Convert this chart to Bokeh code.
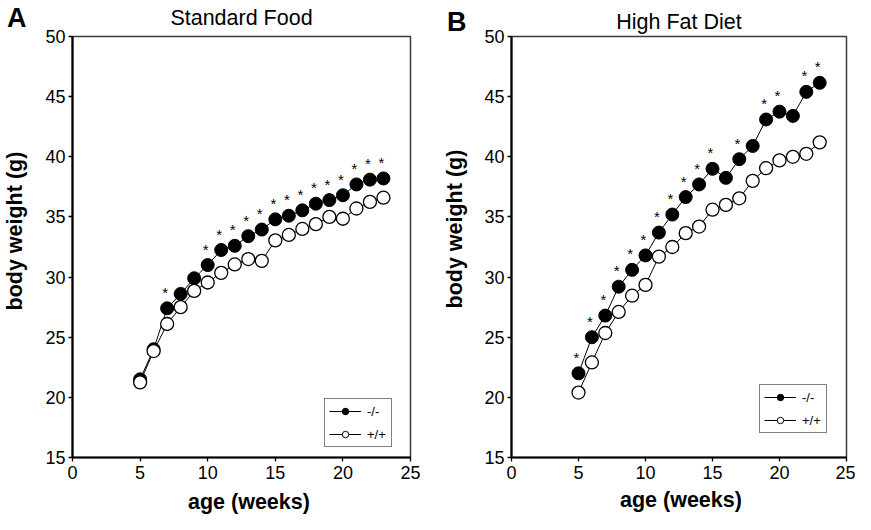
from bokeh.plotting import figure
from bokeh.models import Legend, LegendItem, FixedTicker, Range1d, Title
from bokeh.layouts import row
from bokeh.embed import file_html
from bokeh.resources import INLINE
from bokeh.core.properties import value

# ---------------- data ----------------
weeks = [5, 6, 7, 8, 9, 10, 11, 12, 13, 14, 15, 16, 17, 18, 19, 20, 21, 22, 23]

sf_ko = [21.5, 24.0, 27.4, 28.6, 29.9, 31.0, 32.25, 32.6, 33.4, 33.95, 34.8, 35.1, 35.55,
         36.1, 36.4, 36.8, 37.7, 38.1, 38.2]
sf_wt = [21.25, 23.85, 26.1, 27.5, 28.85, 29.55, 30.35, 31.05, 31.5, 31.35, 33.05, 33.5,
         34.0, 34.4, 35.0, 34.85, 35.7, 36.25, 36.6]
sf_sig = [7, 10, 11, 12, 13, 14, 15, 16, 17, 18, 19, 20, 21, 22, 23]

hf_ko = [22.0, 25.0, 26.8, 29.2, 30.6, 31.8, 33.7, 35.2, 36.65, 37.7, 39.0, 38.25, 39.8,
         40.9, 43.1, 43.75, 43.4, 45.4, 46.15]
hf_wt = [20.4, 22.9, 25.35, 27.1, 28.45, 29.35, 31.7, 32.5, 33.65, 34.2, 35.6, 36.0, 36.55,
         38.0, 39.05, 39.7, 40.0, 40.25, 41.2]
hf_sig = [5, 6, 7, 8, 9, 10, 11, 12, 13, 14, 15, 17, 19, 20, 22, 23]

x_ticks = [0, 5, 10, 15, 20, 25]
y_ticks = [15, 20, 25, 30, 35, 40, 45, 50]
titles = ["Standard Food", "High Fat Diet"]
letters = ["A", "B"]
legend_labels = ["-/-", "+/+"]
x_label = "age (weeks)"
y_label = "body weight (g)"

FONT = "Liberation Sans"
NAN = float("nan")


def make_panel(ko, wt, sig, title, letter, g):
    W, H, bl, br, bt, bb = g["size"]
    p = figure(width=W, height=H, x_range=Range1d(0, 25), y_range=Range1d(15, 50),
               output_backend="svg", toolbar_location=None, title=None,
               min_border_left=bl, min_border_right=br,
               min_border_top=bt, min_border_bottom=bb)
    p.grid.visible = False
    p.background_fill_color = "white"
    p.border_fill_color = "white"
    p.outline_line_color = "#3a3a3a"
    p.outline_line_width = 1.5

    p.xaxis.ticker = FixedTicker(ticks=x_ticks, minor_ticks=[])
    p.yaxis.ticker = FixedTicker(ticks=y_ticks, minor_ticks=[])
    for ax in (p.xaxis[0], p.yaxis[0]):
        ax.axis_line_color = "black"
        ax.axis_line_width = 2.2
        ax.major_tick_line_color = "black"
        ax.major_tick_line_width = 1.3
        ax.major_tick_in = 0
        ax.major_tick_out = 4
        ax.minor_tick_line_color = None
        ax.major_label_text_font = FONT
        ax.major_label_text_font_size = "18px"
        ax.major_label_text_color = "black"
    p.xaxis.major_label_standoff = 4
    p.yaxis.major_label_standoff = 3

    # series
    lk = p.line(weeks, ko, line_color="black", line_width=1)
    p.scatter(weeks, ko, size=13, fill_color="black", line_color="black", line_width=1)
    lw = p.line(weeks, wt, line_color="black", line_width=1)
    p.scatter(weeks, wt, size=13, fill_color="white", line_color="black", line_width=1.3)

    # significance stars
    lookup = dict(zip(weeks, ko))
    sy = [lookup[w] for w in sig]
    p.text(x=sig, y=sy, text=["*"] * len(sig), text_font=value(FONT),
           text_font_size="15px", text_align="center", text_baseline="middle",
           x_offset=-2, y_offset=-16, text_color="black")

    # legend with small markers (marker renderers hold no visible point)
    dk = p.scatter(x=[NAN], y=[NAN], size=7, fill_color="black", line_color="black")
    dw = p.scatter(x=[NAN], y=[NAN], size=7, fill_color="white", line_color="black",
                   line_width=1)
    legend = Legend(items=[LegendItem(label=legend_labels[0], renderers=[lk, dk]),
                           LegendItem(label=legend_labels[1], renderers=[lw, dw])],
                    location=g["legend"], margin=0, padding=4, spacing=7,
                    glyph_width=32, glyph_height=16, label_height=16, label_standoff=6,
                    label_text_font=FONT, label_text_font_size="13px",
                    label_text_color="black",
                    border_line_color="black", border_line_width=1,
                    background_fill_color="white", background_fill_alpha=1)
    p.add_layout(legend)

    F_top = bt
    F_bot = H - bb

    # panel letter and title (zero-size title panels, positioned by standoff)
    t_letter = Title(text=letter, align="left", offset=g["letter"][0] - bl,
                     vertical_align="top", standoff=2 * (g["letter"][1] - F_top),
                     text_font=FONT, text_font_size="27px", text_font_style="bold",
                     text_color="black")
    t_main = Title(text=title, align="center", vertical_align="top",
                   standoff=2 * (g["title"] - F_top),
                   text_font=FONT, text_font_size="21.5px", text_font_style="normal",
                   text_color="black")
    p.add_layout(t_main, "above")
    p.add_layout(t_letter, "above")

    # axis titles, placed innermost so the axes stay on the frame
    t_x = Title(text=x_label, align="left", offset=g["xlab"][0] - bl,
                vertical_align="bottom", standoff=-2 * (g["xlab"][1] - F_bot),
                text_font=FONT, text_font_size="21.5px", text_font_style="bold",
                text_color="black")
    t_y = Title(text=y_label, align="left", offset=F_bot - g["ylab"][1],
                vertical_align="top", standoff=2 * (g["ylab"][0] - bl),
                text_font=FONT, text_font_size="21.5px", text_font_style="bold",
                text_color="black")
    p.below = [t_x] + list(p.below)
    p.left = [t_y] + list(p.left)
    return p


# geometry in canvas pixels: letter (left, box top), title box top,
# x label (left, box bottom), y label (box left, text start y)
geomA = {"size": (432, 514, 72, 22, 36, 57), "legend": (252, 10),
         "letter": (6.5, 2.2), "title": 5.2, "xlab": (187.5, 513), "ylab": (2.6, 310)}
geomB = {"size": (423, 514, 79, 9, 32, 55), "legend": (248, 24),
         "letter": (14.5, 2.2), "title": 5.2, "xlab": (187.5, 513), "ylab": (10.6, 310)}

pA = make_panel(sf_ko, sf_wt, sf_sig, titles[0], letters[0], geomA)
pB = make_panel(hf_ko, hf_wt, hf_sig, titles[1], letters[1], geomB)

layout = row(pA, pB)
open("out.html", "w").write(file_html(layout, INLINE))
